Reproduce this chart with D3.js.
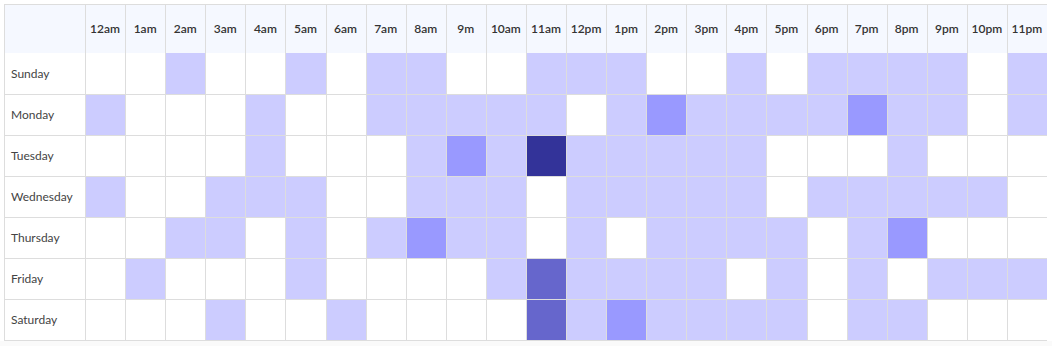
<!DOCTYPE html>
<html>
<head>
<meta charset="utf-8">
<script src="https://cdn.jsdelivr.net/npm/d3@7"></script>
<style>
  body { margin: 0; background: #fff; }
  svg { display: block; font-family: Lato, "Open Sans", sans-serif; }
</style>
</head>
<body>
<div id="heatmap"></div>
<script>
// hour labels, as printed in the header (the "9m" typo is in the original)
var hours = ["12am","1am","2am","3am","4am","5am","6am","7am","8am","9m","10am","11am",
             "12pm","1pm","2pm","3pm","4pm","5pm","6pm","7pm","8pm","9pm","10pm","11pm"];
var days = ["Sunday","Monday","Tuesday","Wednesday","Thursday","Friday","Saturday"];

// activity level per hour (0 = none .. 4 = highest)
var sunday    = [0,0,1,0,0,1,0,1,1,0,0,1,1,1,0,0,1,0,1,1,1,1,0,1];
var monday    = [1,0,0,0,1,0,0,1,1,1,1,1,0,1,2,1,1,1,1,2,1,1,0,1];
var tuesday   = [0,0,0,0,1,0,0,0,1,2,1,4,1,1,1,1,1,0,0,0,1,0,0,0];
var wednesday = [1,0,0,1,1,1,0,0,1,1,1,0,1,1,1,1,1,0,1,1,1,1,1,0];
var thursday  = [0,0,1,1,0,1,0,1,2,1,1,0,1,0,1,1,1,1,0,1,2,0,0,0];
var friday    = [0,1,0,0,0,1,0,0,0,0,1,3,1,1,1,1,0,1,0,1,0,1,1,1];
var saturday  = [0,0,0,1,0,0,1,0,0,0,0,3,1,2,1,1,1,1,0,1,1,0,0,0];

var levels = [sunday, monday, tuesday, wednesday, thursday, friday, saturday];
var palette = ["#ffffff","#ccccff","#9999ff","#6666cc","#333399"];

draw();

function draw() {
  var width = 1052, height = 346;
  var gridLeft = 4, gridTop = 4, labelW = 81, headerH = 49;
  var gridRight = 1047, gridBottom = 340;

  var cells = [];
  days.forEach(function(d, i) {
    hours.forEach(function(h, j) {
      cells.push({day: d, hour: h, value: levels[i][j]});
    });
  });

  var svg = d3.select("#heatmap").append("svg")
      .attr("width", width)
      .attr("height", height);

  var x = d3.scaleBand().domain(hours).range([gridLeft + labelW, gridRight]);
  var y = d3.scaleBand().domain(days).range([gridTop + headerH, gridBottom]);
  var color = d3.scaleOrdinal().domain([0,1,2,3,4]).range(palette);

  // strip under the table
  svg.append("rect")
      .attr("x", 0).attr("y", gridBottom + 1)
      .attr("width", width).attr("height", height - gridBottom - 1)
      .attr("fill", "#fafafa");

  // header background
  svg.append("rect")
      .attr("x", gridLeft).attr("y", gridTop)
      .attr("width", gridRight - gridLeft).attr("height", headerH)
      .attr("fill", "#f5f8ff");

  // heat cells
  svg.selectAll("rect.cell")
      .data(cells)
    .enter().append("rect")
      .attr("class", "cell")
      .attr("x", function(d) { return Math.round(x(d.hour)); })
      .attr("y", function(d) { return Math.round(y(d.day)); })
      .attr("width", function(d) { return Math.round(x(d.hour) + x.bandwidth()) - Math.round(x(d.hour)); })
      .attr("height", function(d) { return Math.round(y(d.day) + y.bandwidth()) - Math.round(y(d.day)); })
      .attr("fill", function(d) { return color(d.value); });

  var grid = svg.append("g")
      .attr("stroke", "#dddddd")
      .attr("stroke-width", 1)
      .attr("shape-rendering", "crispEdges");

  // vertical lines (left edge, label column edge, between hours)
  var vx = [gridLeft].concat(hours.map(function(h) { return Math.round(x(h)); }));
  grid.selectAll("line.v")
      .data(vx)
    .enter().append("line")
      .attr("x1", function(d) { return d + 0.5; })
      .attr("x2", function(d) { return d + 0.5; })
      .attr("y1", gridTop)
      .attr("y2", gridBottom + 1);

  // horizontal lines (top edge, between days, bottom edge)
  var hy = [gridTop].concat(days.slice(1).map(function(d) { return Math.round(y(d)); }), [gridBottom]);
  grid.selectAll("line.h")
      .data(hy)
    .enter().append("line")
      .attr("x1", gridLeft)
      .attr("x2", gridRight)
      .attr("y1", function(d) { return d + 0.5; })
      .attr("y2", function(d) { return d + 0.5; });

  // hour labels
  svg.selectAll("text.hour")
      .data(hours)
    .enter().append("text")
      .attr("class", "hour")
      .attr("x", function(d) { return x(d) + x.bandwidth() / 2; })
      .attr("y", gridTop + headerH / 2)
      .attr("dy", "0.35em")
      .attr("text-anchor", "middle")
      .attr("font-size", 12)
      .attr("font-weight", 600)
      .attr("fill", "#333")
      .text(function(d) { return d; });

  // day labels
  svg.selectAll("text.day")
      .data(days)
    .enter().append("text")
      .attr("class", "day")
      .attr("x", gridLeft + 7)
      .attr("y", function(d) { return y(d) + y.bandwidth() / 2; })
      .attr("dy", "0.35em")
      .attr("font-size", 12)
      .attr("fill", "#444")
      .text(function(d) { return d; });
}
</script>
</body>
</html>
